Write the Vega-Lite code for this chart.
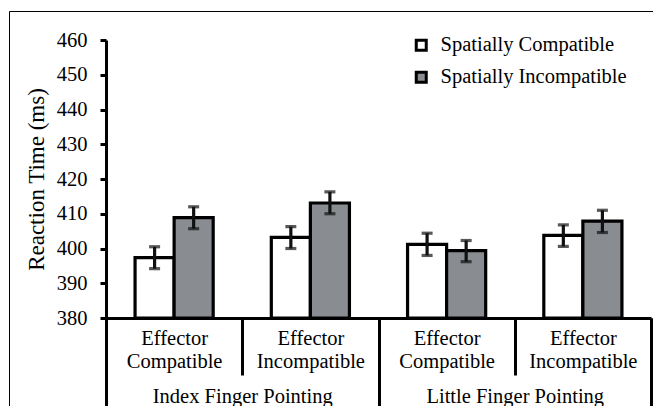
{
  "$schema": "https://vega.github.io/schema/vega-lite/v6.json",
  "width": 545,
  "height": 278,
  "autosize": {"type": "none"},
  "padding": {"left": 106, "top": 40, "right": 2, "bottom": 88},
  "background": "white",
  "config": {
    "view": {"stroke": null},
    "font": "Liberation Serif",
    "axis": {"labelFont": "Liberation Serif", "titleFont": "Liberation Serif", "labelColor": "black", "titleColor": "black", "grid": false},
    "legend": {"labelFont": "Liberation Serif", "labelColor": "black"}
  },
  "data": {
    "values": [
      {"cond": "Index|Effector Compatible", "group": "Index Finger Pointing", "series": "Spatially Compatible", "rt": 397.4, "lo": 394.2, "hi": 400.5},
      {"cond": "Index|Effector Compatible", "group": "Index Finger Pointing", "series": "Spatially Incompatible", "rt": 408.9, "lo": 405.7, "hi": 412.0},
      {"cond": "Index|Effector Incompatible", "group": "Index Finger Pointing", "series": "Spatially Compatible", "rt": 403.2, "lo": 400.0, "hi": 406.3},
      {"cond": "Index|Effector Incompatible", "group": "Index Finger Pointing", "series": "Spatially Incompatible", "rt": 413.1, "lo": 410.0, "hi": 416.3},
      {"cond": "Little|Effector Compatible", "group": "Little Finger Pointing", "series": "Spatially Compatible", "rt": 401.2, "lo": 398.0, "hi": 404.4},
      {"cond": "Little|Effector Compatible", "group": "Little Finger Pointing", "series": "Spatially Incompatible", "rt": 399.4, "lo": 396.2, "hi": 402.3},
      {"cond": "Little|Effector Incompatible", "group": "Little Finger Pointing", "series": "Spatially Compatible", "rt": 403.8, "lo": 400.6, "hi": 406.8},
      {"cond": "Little|Effector Incompatible", "group": "Little Finger Pointing", "series": "Spatially Incompatible", "rt": 407.9, "lo": 404.6, "hi": 411.0}
    ]
  },
  "layer": [
    {
      "encoding": {
        "x": {
          "field": "cond", "type": "nominal",
          "scale": {"paddingInner": 0, "paddingOuter": 0},
          "axis": {
            "orient": "bottom", "title": null, "labelAngle": 0,
            "domainColor": "black", "domainWidth": 3,
            "tickBand": "extent", "tickColor": "black", "tickWidth": 3, "tickSize": 57,
            "labelPadding": -47, "labelFont": "Liberation Serif", "labelFontSize": 20.5, "labelLineHeight": 23, "labelLimit": 0,
            "labelExpr": "indexof(datum.label, '|') >= 0 ? split(split(datum.label, '|')[1], ' ') : ''"
          }
        },
        "xOffset": {"field": "series", "type": "nominal", "scale": {"paddingInner": 0, "paddingOuter": 0.744}},
        "y": {
          "field": "rt", "type": "quantitative",
          "scale": {"domain": [380, 460], "zero": false, "nice": false},
          "axis": {
            "title": "Reaction Time (ms)", "titleFontSize": 23, "titleFontWeight": "normal", "titlePadding": 8,
            "values": [380, 390, 400, 410, 420, 430, 440, 450, 460],
            "domainColor": "black", "domainWidth": 3,
            "tickColor": "black", "tickWidth": 3, "tickSize": 6,
            "labelFontSize": 20.5, "labelPadding": 13
          }
        }
      },
      "layer": [
        {
          "mark": {"type": "bar", "stroke": "black", "strokeWidth": 3.2},
          "encoding": {
            "y2": {"datum": 380},
            "fill": {
              "field": "series", "type": "nominal",
              "scale": {"domain": ["Spatially Compatible", "Spatially Incompatible"], "range": ["white", "#898d92"]},
              "legend": {
                "title": null, "orient": "none", "legendX": 305, "legendY": -5,
                "symbolType": "square", "symbolSize": 100, "symbolStrokeColor": "black", "symbolStrokeWidth": 3,
                "labelFont": "Liberation Serif", "labelFontSize": 20.5, "labelOffset": 9, "rowPadding": 9, "labelLimit": 0
              }
            }
          }
        },
        {
          "mark": {"type": "rule", "color": "#111111", "strokeWidth": 3.2},
          "encoding": {"y": {"field": "lo", "type": "quantitative"}, "y2": {"field": "hi"}}
        },
        {
          "mark": {"type": "tick", "color": "#111111", "thickness": 3.2, "size": 11},
          "encoding": {"y": {"field": "lo", "type": "quantitative"}}
        },
        {
          "mark": {"type": "tick", "color": "#111111", "thickness": 3.2, "size": 11},
          "encoding": {"y": {"field": "hi", "type": "quantitative"}}
        }
      ]
    },
    {
      "mark": {"type": "point", "opacity": 0},
      "encoding": {
        "x": {
          "field": "group", "type": "nominal",
          "scale": {"paddingInner": 0, "paddingOuter": 0},
          "axis": {
            "orient": "bottom", "title": null, "labelAngle": 0, "domain": false,
            "tickBand": "extent", "tickColor": "black", "tickWidth": 3, "tickSize": 90,
            "labelPadding": -22, "labelFont": "Liberation Serif", "labelFontSize": 20.5, "labelLimit": 0
          }
        },
        "shape": {
          "field": "group", "type": "nominal",
          "legend": {
            "title": null, "orient": "none", "legendX": -97, "legendY": -29,
            "symbolOpacity": 0, "labelOpacity": 0, "padding": 800,
            "strokeColor": "black", "fillColor": null
          }
        }
      }
    }
  ],
  "resolve": {"scale": {"x": "independent"}, "axis": {"x": "independent"}}
}
